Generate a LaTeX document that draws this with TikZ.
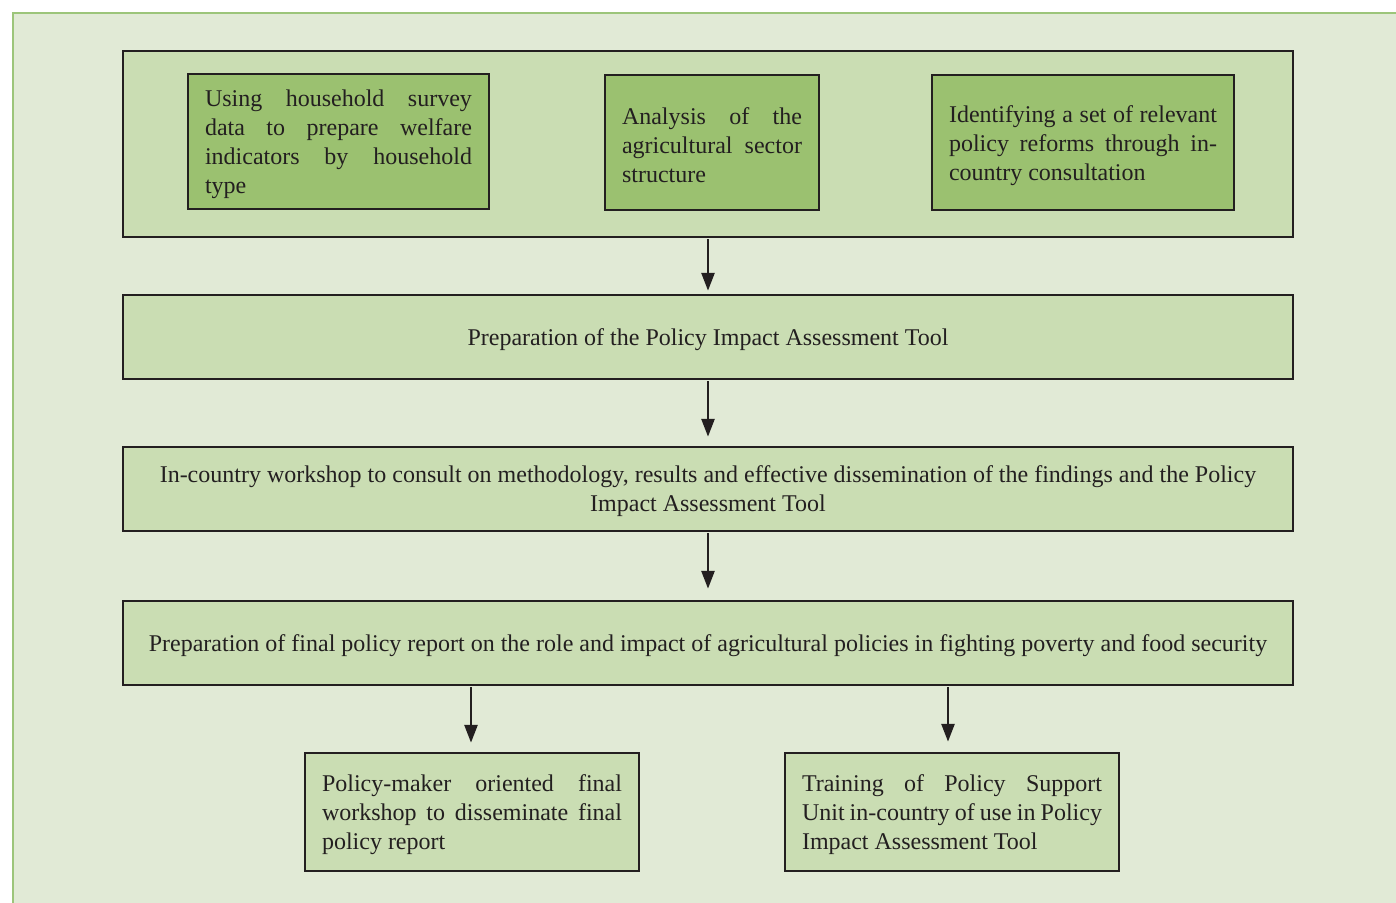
\documentclass[tikz,border=0pt]{standalone}
\usepackage{fontspec}
\setmainfont{Liberation Serif}
\usepackage{xcolor}
\usetikzlibrary{positioning,arrows.meta}

\definecolor{pagebg}{HTML}{E1EAD6}
\definecolor{framegreen}{HTML}{9CC57A}
\definecolor{paleGreen}{HTML}{CADDB3}
\definecolor{midGreen}{HTML}{9BC170}
\definecolor{inkdark}{HTML}{231F20}

\begin{document}
\begin{tikzpicture}[
    x=1pt, y=-1pt,
    box/.style={draw=inkdark, line width=2.5pt, fill=paleGreen, inner sep=0pt,
                text=inkdark, font=\fontsize{24}{29}\selectfont},
    wide/.style={box, text depth=0pt, minimum width=1170pt, minimum height=84pt, align=center},
    parbox/.style={box, align=justify, text height=22.5pt},
    inbox/.style={parbox, fill=midGreen, minimum height=135pt},
    outbox/.style={parbox, minimum width=334pt, minimum height=118pt, text width=300pt},
    arr/.style={-{Triangle[length=18pt,width=13pt]}, line width=2.8pt, draw=inkdark,
                shorten >=7pt, shorten <=1pt},
]
\useasboundingbox (0,0) rectangle (1396,902);
\clip (0,0) rectangle (1396,902);

% ===== Background panel =====
\draw[framegreen, line width=2.5pt, fill=pagebg] (13.2,13.2) rectangle (1420,930);

% ===== Top group with the three inputs =====
\node[box, minimum width=1170pt, minimum height=186pt] at (708,144) (top) {};
\node[inbox, minimum width=301pt, text width=267pt] at (338.5,141.5) (hh)
     {Using household survey\linebreak data to prepare welfare\linebreak indicators by household\linebreak type};
\node[inbox, minimum width=214pt, text width=180pt] at (712,142.5) (agri)
     {Analysis of the\linebreak agricultural sector\linebreak structure};
\node[inbox, minimum width=302pt, text width=268pt] at (1083,142.5) (reform)
     {Identifying a set of relevant\linebreak policy reforms through in-\linebreak country consultation};

% ===== Main steps =====
\node[wide] at (708,337) (tool) {Preparation of the Policy Impact Assessment Tool};
\node[wide] at (708,489) (wshop)
     {In-country workshop to consult on methodology, results and effective dissemination of the findings and the Policy\\
      Impact Assessment Tool};
\node[wide] at (708,643) (report)
     {Preparation of final policy report on the role and impact of agricultural policies in fighting poverty and food security};

% ===== Outputs =====
\node[outbox] at (472,812) (final)
     {Policy-maker oriented final\linebreak workshop to disseminate final\linebreak policy report};
\node[outbox] at (952,812) (train)
     {Training of Policy Support\linebreak Unit in-country of use in Policy\linebreak Impact Assessment Tool};

% ===== Arrows =====
\draw[arr, shorten >=3pt] (top.south) -- (tool.north);
\draw[arr, shorten >=9pt] (tool.south) -- (wshop.north);
\draw[arr, shorten >=11pt] (wshop.south) -- (report.north);
\draw[arr, shorten >=9pt] (report.south -| 471,0) -- (final.north -| 471,0);
\draw[arr, shorten >=10pt] (report.south -| 948,0) -- (train.north -| 948,0);

\end{tikzpicture}
\end{document}
